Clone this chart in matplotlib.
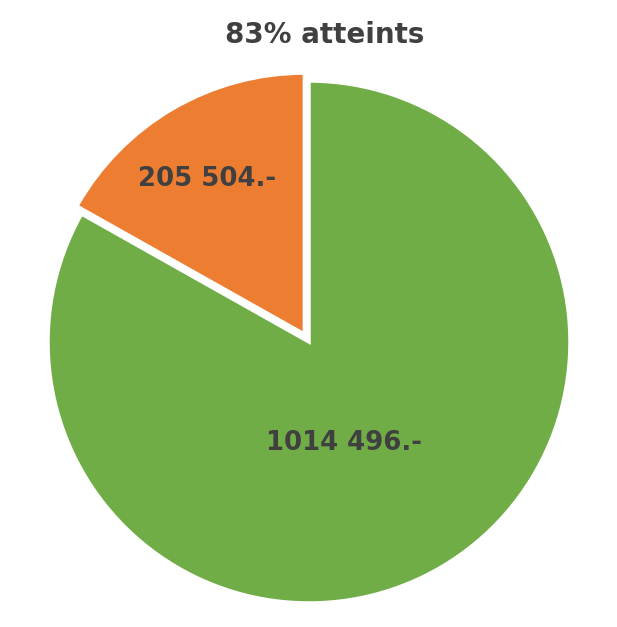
import numpy as np
import matplotlib.pyplot as plt

labels = ['1014 496.-', '205 504.-']
values = [1014496, 205504]
colors = ['#70AD47', '#ED7D31']
title = '83% atteints'

plt.rcParams['font.family'] = ['DejaVu Sans']

fig = plt.figure(figsize=(6.17, 6.27), dpi=100)
# pie centre ~ (309, 342) px, radius ~261 px
ax = fig.add_axes([48 / 617, 24 / 627, 522 / 617, 522 / 627])

wedges, texts = ax.pie(values, colors=colors, startangle=90, counterclock=False,
                       explode=[0, 0.035],
                       wedgeprops=dict(edgecolor='white', linewidth=2.5))
ax.set_xlim(-1, 1)
ax.set_ylim(-1, 1)
ax.set_aspect('auto')

# label placement (radius, angle in degrees)
label_pos = [(0.41, -71), (0.735, 122)]
for lab, (r, a) in zip(labels, label_pos):
    t = np.deg2rad(a)
    ax.text(r * np.cos(t), r * np.sin(t), lab, ha='center', va='center',
            fontsize=18.7, fontweight='bold', color='#404040')

fig.text(325 / 617, 1 - 35 / 627, title, ha='center', va='center',
         fontsize=20, fontweight='bold', color='#404040')

fig.savefig('out.png', dpi=100)
